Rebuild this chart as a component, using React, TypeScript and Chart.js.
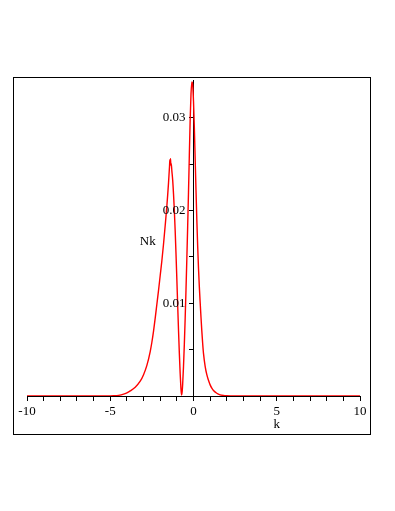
import React, { useEffect, useRef } from "react";
import { Chart, registerables } from "chart.js";

Chart.register(...registerables);

// momentum k
const kValues: number[] = [
  -10, -8, -6, -5.0, -4.8, -4.5, -4.2, -4.0, -3.8, -3.5, -3.2, -3.0, -2.8, -2.6, -2.5, -2.4,
  -2.3, -2.2, -2.1, -2.0, -1.9, -1.8, -1.7, -1.6, -1.55, -1.5, -1.46, -1.44, -1.42, -1.4,
  -1.38, -1.36, -1.34, -1.3, -1.25, -1.2, -1.15, -1.1, -1.05, -1.0, -0.95, -0.9, -0.85, -0.8,
  -0.76, -0.72, -0.68, -0.65, -0.6, -0.55, -0.5, -0.45, -0.4, -0.35, -0.3, -0.25, -0.2, -0.15,
  -0.1, -0.05, 0, 0.05, 0.1, 0.15, 0.2, 0.25, 0.3, 0.35, 0.4, 0.45, 0.5, 0.55, 0.6, 0.7, 0.8,
  0.9, 1.0, 1.1, 1.2, 1.4, 1.6, 1.8, 2.0, 2.5, 4, 6, 8, 10,
];

// Nk values
const nkValues: number[] = [
  0, 0, 0, 0.000005, 0.00002, 0.00007, 0.0002, 0.00035, 0.00055, 0.00095, 0.0016, 0.0023, 0.0033,
  0.0048, 0.0058, 0.007, 0.0084, 0.0099, 0.0114, 0.013, 0.0146, 0.0164, 0.0184, 0.0205, 0.0217,
  0.023, 0.0242, 0.0248, 0.0255, 0.025, 0.0256, 0.0249, 0.0251, 0.0243, 0.0233, 0.0218, 0.02,
  0.0178, 0.0153, 0.0126, 0.0098, 0.0071, 0.0046, 0.0024, 0.001, 0.0001, 0.0005, 0.0013, 0.0032,
  0.0056, 0.0084, 0.0115, 0.0148, 0.0183, 0.022, 0.026, 0.0298, 0.0326, 0.0339, 0.0336, 0.0318,
  0.029, 0.0256, 0.0222, 0.019, 0.0162, 0.0138, 0.0118, 0.0101, 0.0085, 0.007, 0.0057, 0.0046,
  0.0032, 0.0023, 0.0017, 0.0012, 0.00085, 0.0006, 0.0003, 0.00013, 0.00005, 0.00002, 0, 0, 0,
  0, 0,
];

const xLabelValues: number[] = [-10, -5, 0, 5, 10];
const xLabels: string[] = ["-10", "-5", "0", "5", "10"];
const yLabelValues: number[] = [0.01, 0.02, 0.03];
const yLabels: string[] = ["0.01", "0.02", "0.03"];
const xTitle = "k";
const yTitle = "Nk";

const FONT = '"Liberation Serif", "DejaVu Serif", serif';

const textPlugin = {
  id: "maple-text",
  afterDraw(chart: any) {
    const { ctx } = chart;
    const xs = chart.scales.x;
    const ys = chart.scales.y;
    ctx.save();
    ctx.font = `13px ${FONT}`;
    ctx.fillStyle = "#000";
    ctx.textBaseline = "middle";
    ctx.textAlign = "right";
    const axisX = xs.getPixelForValue(0);
    yLabelValues.forEach((v, i) => {
      ctx.fillText(yLabels[i], axisX - 8, ys.getPixelForValue(v));
    });
    ctx.textAlign = "center";
    ctx.fillText(xTitle, xs.getPixelForValue(5), ys.getPixelForValue(0) + 29);
    ctx.fillText(yTitle, xs.getPixelForValue(-2.75), ys.getPixelForValue(0.0167));
    ctx.restore();
  },
};

function findLabel(v: number, vals: number[], labels: string[]): string {
  for (let i = 0; i < vals.length; i++) {
    if (Math.abs(vals[i] - v) < 1e-9) return labels[i];
  }
  return "";
}

export default function App() {
  const ref = useRef<HTMLCanvasElement | null>(null);

  useEffect(() => {
    if (!ref.current) return;
    const data = kValues.map((k, i) => ({ x: k, y: nkValues[i] }));
    const chart = new Chart(ref.current, {
      type: "scatter",
      data: {
        datasets: [
          {
            data,
            showLine: true,
            borderColor: "#ff0000",
            borderWidth: 1.4,
            pointRadius: 0,
            cubicInterpolationMode: "monotone",
            fill: false,
          },
        ],
      },
      plugins: [textPlugin],
      options: {
        animation: false,
        responsive: false,
        events: [],
        layout: { padding: { left: 27, right: 35, top: 80, bottom: 115 } },
        plugins: { legend: { display: false }, tooltip: { enabled: false } },
        scales: {
          x: {
            type: "linear",
            position: { y: 0 },
            min: -10,
            max: 10,
            grid: { drawOnChartArea: false, tickLength: 4, color: "#000", lineWidth: 1 },
            border: { display: true, color: "#000", width: 1 },
            ticks: {
              stepSize: 1,
              autoSkip: false,
              maxRotation: 0,
              padding: 4,
              color: "#000",
              font: { family: FONT, size: 13 },
              callback: (v: any) => findLabel(Number(v), xLabelValues, xLabels),
            },
          },
          y: {
            type: "linear",
            position: { x: 0 },
            min: 0,
            max: 0.0341,
            grid: { drawOnChartArea: false, tickLength: 4, color: "#000", lineWidth: 1 },
            border: { display: true, color: "#000", width: 1 },
            ticks: {
              stepSize: 0.005,
              includeBounds: false,
              autoSkip: false,
              padding: 4,
              color: "#000",
              font: { family: FONT, size: 13 },
              callback: () => "",
            },
          },
        },
      },
    } as any);
    return () => chart.destroy();
  }, []);

  return (
    <div style={{ position: "absolute", left: 0, top: 0, width: 395, height: 511, background: "#fff" }}>
      <div
        style={{
          position: "absolute",
          left: 13,
          top: 77,
          width: 358,
          height: 358,
          boxSizing: "border-box",
          border: "1px solid #000",
        }}
      />
      <canvas
        ref={ref}
        width={395}
        height={511}
        style={{ position: "absolute", left: 0, top: 0, width: 395, height: 511 }}
      />
    </div>
  );
}
